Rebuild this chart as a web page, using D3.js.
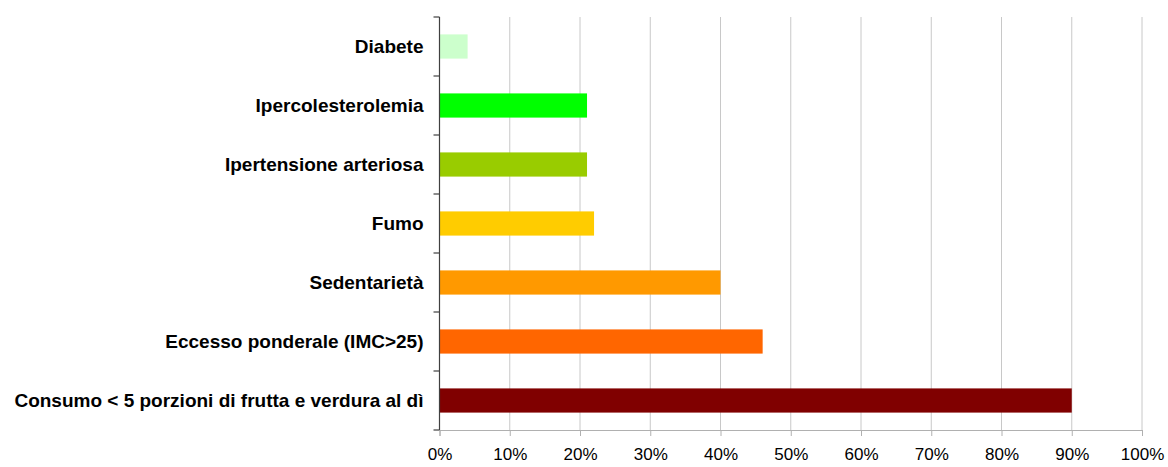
<!DOCTYPE html>
<html>
<head>
<meta charset="utf-8">
<script src="https://cdn.jsdelivr.net/npm/d3@7"></script>
<style>
  html, body { margin: 0; padding: 0; background: #fff; }
  svg { display: block; }
  .cat text { font-family: "Liberation Sans", Arial, sans-serif; font-weight: bold; font-size: 19px; fill: #000; }
  .xax text { font-family: "Liberation Sans", Arial, sans-serif; font-size: 17px; fill: #000; }
</style>
</head>
<body>
<svg id="chart" width="1168" height="467"></svg>
<script>
// Risk factors, top to bottom
const categories = [
  "Diabete",
  "Ipercolesterolemia",
  "Ipertensione arteriosa",
  "Fumo",
  "Sedentarietà",
  "Eccesso ponderale (IMC>25)",
  "Consumo < 5 porzioni di frutta e verdura al dì"
];
// Prevalence (%)
const values = [4, 21, 21, 22, 40, 46, 90];
const barColors = ["#CCFFCC", "#00FF00", "#99CC00", "#FFCC00", "#FF9900", "#FF6600", "#800000"];
const xTicks = [0, 10, 20, 30, 40, 50, 60, 70, 80, 90, 100];

const svg = d3.select("#chart");
const margin = { left: 439.5, right: 26, top: 17, bottom: 37 };
const W = 1168, H = 467;

const x = d3.scaleLinear().domain([0, 100]).range([margin.left, W - margin.right]);
const y = d3.scaleBand().domain(categories).range([margin.top, H - margin.bottom]).paddingInner(0.59).paddingOuter(0.295);

// Vertical gridlines
svg.append("g")
  .selectAll("line")
  .data(xTicks.slice(1))
  .join("line")
  .attr("x1", d => x(d)).attr("x2", d => x(d))
  .attr("y1", margin.top).attr("y2", H - margin.bottom)
  .attr("stroke", "#c8c8c8").attr("stroke-width", 1);

// Bars
svg.append("g")
  .selectAll("rect")
  .data(values)
  .join("rect")
  .attr("x", x(0))
  .attr("y", (d, i) => y(categories[i]))
  .attr("width", d => x(d) - x(0))
  .attr("height", y.bandwidth())
  .attr("fill", (d, i) => barColors[i]);

// Bottom axis
const xAxis = d3.axisBottom(x)
  .tickValues(xTicks)
  .tickFormat(d => d + "%")
  .tickSize(6)
  .tickPadding(12);
const gx = svg.append("g").attr("class", "xax")
  .attr("transform", `translate(0,${H - margin.bottom})`)
  .call(xAxis);
gx.select(".domain").attr("stroke", "#b0b0b0");
gx.selectAll(".tick line").attr("stroke", "#b0b0b0");

// Left category axis with ticks at band boundaries
const gy = svg.append("g").attr("class", "cat")
  .attr("transform", `translate(${x(0)},0)`);
const bounds = d3.range(categories.length + 1).map(i => margin.top + i * (H - margin.top - margin.bottom) / categories.length);
gy.append("line")
  .attr("x1", 0).attr("x2", 0)
  .attr("y1", margin.top).attr("y2", H - margin.bottom)
  .attr("stroke", "#404040").attr("stroke-width", 1.2);
gy.selectAll("line.tk")
  .data(bounds)
  .join("line")
  .attr("class", "tk")
  .attr("x1", -6).attr("x2", 0)
  .attr("y1", d => d).attr("y2", d => d)
  .attr("stroke", "#404040").attr("stroke-width", 1.2);
gy.selectAll("text")
  .data(categories)
  .join("text")
  .attr("x", -16)
  .attr("y", d => y(d) + y.bandwidth() / 2)
  .attr("dy", "0.35em")
  .attr("text-anchor", "end")
  .text(d => d);
</script>
</body>
</html>
